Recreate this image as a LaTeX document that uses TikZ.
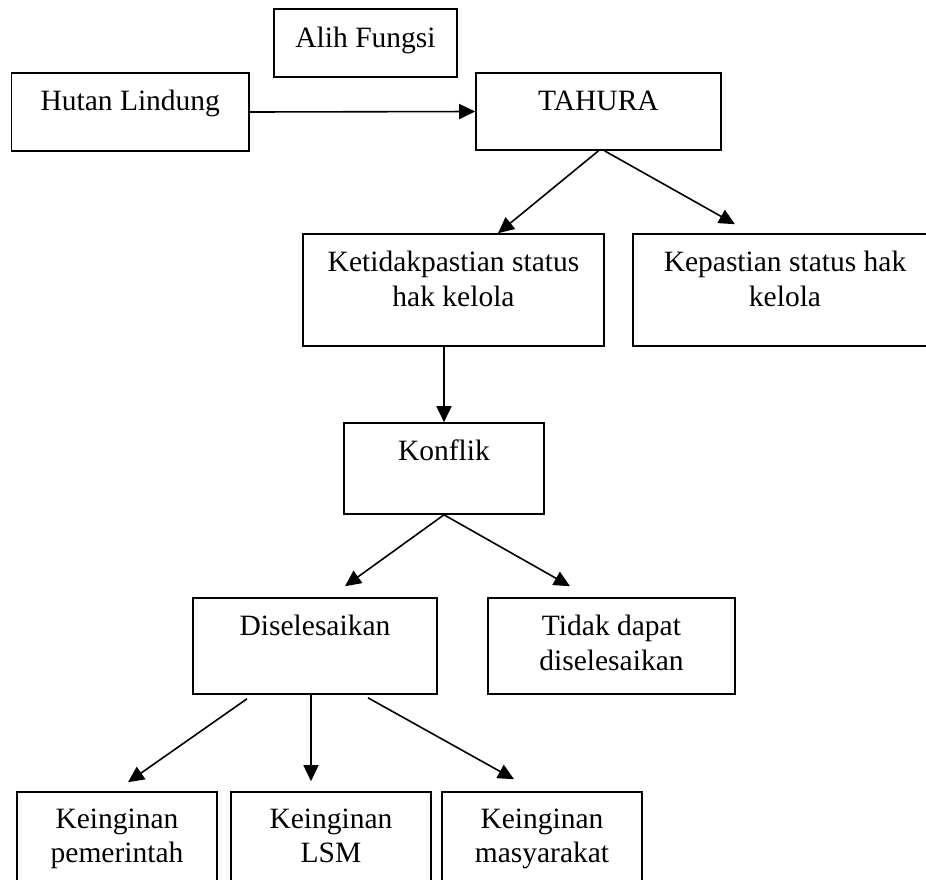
\documentclass[tikz,border=0pt]{standalone}
\usepackage{fontspec}
\setmainfont{Liberation Serif}
\usetikzlibrary{arrows.meta}
\begin{document}
\begin{tikzpicture}[x=1pt,y=-1pt,
  box/.style={draw=black, line width=1.6pt, rectangle, inner sep=0pt},
  lbl/.style={anchor=north, inner sep=0pt, align=center,
    font=\fontsize{29.5}{34.5}\selectfont},
  conn/.style={line width=1.6pt, -{Triangle[length=16pt,width=15pt]}}]
\useasboundingbox (0,0) rectangle (926,879);
\clip (0,0) rectangle (926,879);
% boxes
\node[box, minimum width=183pt, minimum height=68pt] (alih) at (365.5,43) {};
\node[box, minimum width=237.5pt, minimum height=78pt] (hutan) at (130.25,112) {};
\node[box, minimum width=245pt, minimum height=77pt] (tahura) at (598.5,111.5) {};
\node[box, minimum width=301pt, minimum height=112pt] (ketidak) at (453.5,290) {};
\node[box, minimum width=304pt, minimum height=112pt] (kepastian) at (785,290) {};
\node[box, minimum width=200pt, minimum height=91pt] (konflik) at (444,468.5) {};
\node[box, minimum width=244pt, minimum height=96pt] (disel) at (315,646) {};
\node[box, minimum width=247pt, minimum height=96pt] (tidak) at (611.5,646) {};
\node[box, minimum width=200pt, minimum height=108pt] (pem) at (117,846) {};
\node[box, minimum width=200pt, minimum height=108pt] (lsm) at (331,846) {};
\node[box, minimum width=200pt, minimum height=108pt] (mas) at (542,846) {};
% texts (first baseline about 38pt below the top edge)
\node[lbl] (talih) at ([yshift=-14pt]alih.north) {\rule{0pt}{25pt}Alih Fungsi};
\node[lbl] (thutan) at ([yshift=-13.5pt]hutan.north) {\rule{0pt}{25pt}Hutan Lindung};
\node[lbl] (ttahura) at ([yshift=-13.5pt]tahura.north) {\rule{0pt}{25pt}TAHURA};
\node[lbl] (tketidak) at ([yshift=-13.5pt]ketidak.north) {\rule{0pt}{25pt}Ketidakpastian status\\hak kelola};
\node[lbl] (tkepastian) at ([yshift=-13.5pt]kepastian.north) {\rule{0pt}{25pt}Kepastian status hak\\kelola};
\node[lbl] (tkonflik) at ([yshift=-13.5pt]konflik.north) {\rule{0pt}{25pt}Konflik};
\node[lbl] (tdisel) at ([yshift=-13.5pt]disel.north) {\rule{0pt}{25pt}Diselesaikan};
\node[lbl] (ttidak) at ([yshift=-13.5pt]tidak.north) {\rule{0pt}{25pt}Tidak dapat\\diselesaikan};
\node[lbl] (tpem) at ([yshift=-12pt]pem.north) {\rule{0pt}{25pt}Keinginan\\pemerintah};
\node[lbl] (tlsm) at ([yshift=-12pt]lsm.north) {\rule{0pt}{25pt}Keinginan\\LSM};
\node[lbl] (tmas) at ([yshift=-12pt]mas.north) {\rule{0pt}{25pt}Keinginan\\masyarakat};
% connectors
\draw[conn] (hutan.east) -- (tahura.west);
\draw[conn] (tahura.south) -- ([xshift=44.5pt]ketidak.north);
\draw[conn] ([xshift=6pt]tahura.south) -- ([xshift=-50pt,yshift=9pt]kepastian.north);
\draw[conn] (ketidak.south -| konflik.north) -- (konflik.north);
\draw[conn] (konflik.south) -- ([xshift=30pt,yshift=11pt]disel.north);
\draw[conn] (konflik.south) -- ([xshift=-41.5pt,yshift=11pt]tidak.north);
\draw[conn] ([xshift=-68pt,yshift=-4pt]disel.south) -- ([xshift=11pt,yshift=9pt]pem.north);
\draw[conn] ([xshift=-4pt]disel.south) -- ([xshift=-20pt,yshift=10pt]lsm.north);
\draw[conn] ([xshift=53pt,yshift=-3pt]disel.south) -- ([xshift=-28pt,yshift=12pt]mas.north);
\end{tikzpicture}
\end{document}
